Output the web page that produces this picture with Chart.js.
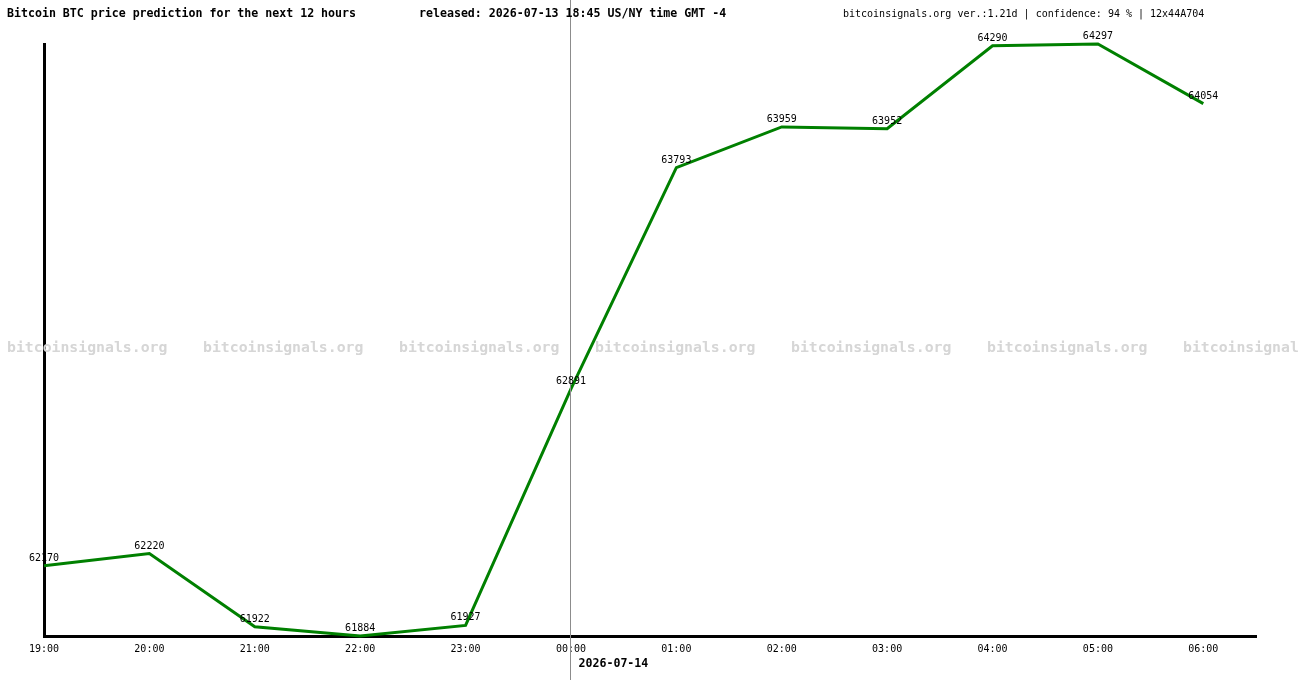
<!DOCTYPE html>
<html>
<head>
<meta charset="UTF-8">
<title>Bitcoin BTC price prediction</title>
<script src="https://cdn.jsdelivr.net/npm/chart.js"></script>
<style>
    body { margin: 0; background: #fff; }
    #wrap { width: 1300px; height: 680px; position: relative; }
</style>
</head>
<body>
<div id="wrap"><canvas id="grafico" width="1300" height="680"></canvas></div>

<script>
    // dados
    var horas = ['19:00', '20:00', '21:00', '22:00', '23:00', '00:00', '01:00', '02:00', '03:00', '04:00', '05:00', '06:00'];
    var precos = [62170, 62220, 61922, 61884, 61927, 62891, 63793, 63959, 63952, 64290, 64297, 64054];
    var tituloEsq = 'Bitcoin BTC price prediction for the next 12 hours';
    var tituloMeio = 'released: 2026-07-13 18:45 US/NY time GMT -4';
    var tituloDir = 'bitcoinsignals.org ver.:1.21d | confidence: 94 % | 12x44A704';
    var dataDia = '2026-07-14';
    var marcaDagua = 'bitcoinsignals.org';

    var pontos = precos.map(function (v, i) { return { x: i, y: v }; });

    // textos, marca d'agua, linha vertical e rotulos dos pontos
    var extras = {
        id: 'extras',
        beforeDatasetsDraw: function (chart) {
            var ctx = chart.ctx;
            ctx.save();
            ctx.font = 'bold 14.8px "DejaVu Sans Mono"';
            ctx.fillStyle = '#d6d6d6';
            ctx.textAlign = 'left';
            ctx.textBaseline = 'middle';
            for (var x = 7; x < 1300; x += 196) {
                ctx.fillText(marcaDagua, x, 348);
            }
            ctx.restore();
        },
        afterDatasetsDraw: function (chart) {
            var ctx = chart.ctx;
            var xs = chart.scales.x;
            var meta = chart.getDatasetMeta(0);
            ctx.save();

            // linha da meia-noite
            var xm = Math.round(xs.getPixelForValue(5)) - 0.5;
            ctx.strokeStyle = '#8c8c8c';
            ctx.lineWidth = 1;
            ctx.beginPath();
            ctx.moveTo(xm, 0);
            ctx.lineTo(xm, 680);
            ctx.stroke();

            // valores
            ctx.fillStyle = '#000';
            ctx.font = '10px "DejaVu Sans Mono"';
            ctx.textAlign = 'center';
            ctx.textBaseline = 'alphabetic';
            meta.data.forEach(function (p, i) {
                ctx.fillText(String(precos[i]), p.x, p.y - 5);
            });

            // cabecalho
            ctx.textAlign = 'left';
            ctx.textBaseline = 'middle';
            ctx.font = 'bold 11.6px "DejaVu Sans Mono"';
            ctx.fillText(tituloEsq, 7, 14);
            ctx.fillText(tituloMeio, 419, 14);
            ctx.font = '10px "DejaVu Sans Mono"';
            ctx.fillText(tituloDir, 843, 14);

            // data abaixo do eixo
            ctx.font = 'bold 11.6px "DejaVu Sans Mono"';
            ctx.fillText(dataDia, xm + 8, 664);
            ctx.restore();
        }
    };

    new Chart(document.getElementById('grafico'), {
        type: 'line',
        data: {
            datasets: [{
                data: pontos,
                borderColor: '#008000',
                borderWidth: 3,
                pointRadius: 0,
                tension: 0,
                fill: false,
                clip: false
            }]
        },
        options: {
            responsive: false,
            animation: false,
            events: [],
            layout: { padding: { left: 44, right: 44, top: 44, bottom: 0 } },
            plugins: {
                legend: { display: false },
                tooltip: { enabled: false }
            },
            scales: {
                x: {
                    type: 'linear',
                    min: 0,
                    max: 11.5,
                    afterFit: function (s) { s.height = 44; },
                    grid: { display: false, drawTicks: false },
                    border: { color: '#000', width: 3 },
                    ticks: {
                        stepSize: 1,
                        includeBounds: false,
                        autoSkip: false,
                        maxRotation: 0,
                        padding: 7,
                        color: '#000',
                        font: { family: 'DejaVu Sans Mono', size: 10 },
                        callback: function (v) {
                            return Number.isInteger(v) && horas[v] ? horas[v] : '';
                        }
                    }
                },
                y: {
                    min: 61884,
                    max: 64297,
                    afterFit: function (s) { s.width = 0; },
                    grid: { display: false, drawTicks: false },
                    border: { color: '#000', width: 3 },
                    ticks: { display: false }
                }
            }
        },
        plugins: [extras]
    });
</script>
</body>
</html>
